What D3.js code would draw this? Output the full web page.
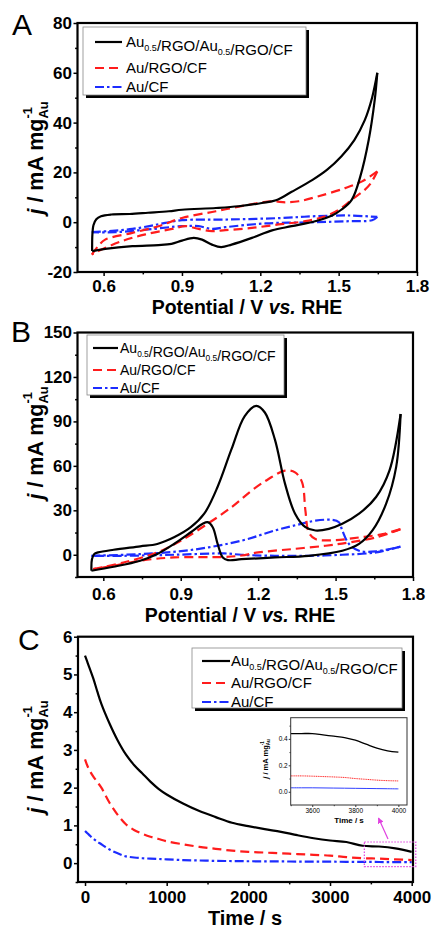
<!DOCTYPE html>
<html><head><meta charset="utf-8">
<script src="https://cdn.jsdelivr.net/npm/d3@7"></script>
<style>
body{margin:0;background:#fff}
svg{display:block}
text{font-family:"Liberation Sans",Arial,Helvetica,sans-serif}
</style>
</head><body>
<svg id="c" width="435" height="929"></svg>
<script>
// ---------------- DATA ----------------
const seriesNames = ["Au_{0.5}/RGO/Au_{0.5}/RGO/CF", "Au/RGO/CF", "Au/CF"];

// Panel A : CV, [potential V, j]
const aBlackFwd = [[0.556,-11.6],[0.557,-5],[0.561,-1.2],[0.572,1.2],[0.59,2.4],[0.63,3.1],[0.7,3.3],[0.77,3.8],[0.85,4.4],[0.9,5],[1.03,5.7],[1.117,6.4],[1.206,7.7],[1.26,8.8],[1.32,12.2],[1.4,17],[1.455,21],[1.51,26.4],[1.56,33],[1.6,41],[1.628,50],[1.648,60]];
const aBlackRev = [[1.648,60],[1.638,49],[1.615,33],[1.583,18.4],[1.55,9],[1.51,5],[1.475,2.7],[1.41,0.4],[1.32,-1.6],[1.245,-3.3],[1.168,-6.3],[1.09,-9],[1.05,-10],[1.015,-9],[0.977,-7],[0.945,-6.3],[0.9,-7.4],[0.86,-8.7],[0.81,-9.2],[0.71,-9.6],[0.606,-10.7],[0.556,-11.6]];
const aRedFwd = [[0.555,-13],[0.58,-9.5],[0.606,-7],[0.71,-4.3],[0.81,-1.6],[0.9,1.7],[1.03,4.4],[1.155,7],[1.245,8.4],[1.296,8],[1.347,8.4],[1.423,10.4],[1.525,13.7],[1.59,16.4],[1.648,20.4]];
const aRedRev = [[1.648,20.4],[1.622,15.5],[1.6,13],[1.55,9],[1.5,5],[1.449,2.4],[1.372,0.4],[1.27,-0.9],[1.168,-2.3],[1.066,-3.2],[1.015,-3.6],[0.964,-2.7],[0.913,-1.6],[0.862,-2.7],[0.76,-4.9],[0.67,-7.6],[0.58,-11.6],[0.555,-13]];
const aBlueFwd = [[0.555,-4],[0.71,-2.7],[0.836,-0.3],[0.9,0.8],[1.09,1.1],[1.283,1.7],[1.41,2.4],[1.538,2.7],[1.648,2.1]];
const aBlueRev = [[1.648,2.1],[1.628,0.8],[1.538,0.4],[1.41,0],[1.22,-0.5],[1.066,-2],[1.015,-2.7],[0.964,-1.6],[0.9,-1.6],[0.77,-2.9],[0.645,-4],[0.555,-4]];

// Panel B : CV, [potential V, j]
const bBlackFwd = [[0.554,-10.8],[0.556,-3],[0.565,0.5],[0.58,1.6],[0.64,3.4],[0.743,5.7],[0.809,7.3],[0.874,11.8],[0.939,18.6],[0.991,27.7],[1.043,45.9],[1.096,70.9],[1.148,93.6],[1.193,100.5],[1.226,96],[1.265,77.7],[1.304,48],[1.343,27.7],[1.383,18.6],[1.422,16.4],[1.474,17.5],[1.526,20.9],[1.591,27.7],[1.657,39],[1.709,57],[1.752,95]];
const bBlackRev = [[1.752,95],[1.735,59.5],[1.696,34.5],[1.643,16.4],[1.591,7.3],[1.526,2.7],[1.396,-0.7],[1.265,-1.8],[1.135,-3],[1.083,-3.6],[1.063,-1.8],[1.043,7.3],[1.024,18.6],[1.004,22],[0.985,20.9],[0.939,15.2],[0.874,7.3],[0.809,0.5],[0.743,-4],[0.64,-8.1],[0.554,-10.8]];
const bRedFwd = [[0.561,-9.7],[0.678,-5.2],[0.809,1.6],[0.9,9.5],[1.004,20.9],[1.096,32],[1.174,43.2],[1.239,51],[1.304,56.8],[1.343,55.6],[1.37,49],[1.383,30],[1.396,15.2],[1.422,10.6],[1.5,9.9],[1.591,11.7],[1.683,14],[1.752,17.3]];
const bRedRev = [[1.752,17.3],[1.657,11.7],[1.552,8.3],[1.461,6.1],[1.33,3.8],[1.2,1.6],[1.135,-0.5],[1.07,-1.5],[0.874,-1.8],[0.743,-4],[0.64,-7.4],[0.561,-9.7]];
const bBlueFwd = [[0.554,-0.7],[0.743,0.5],[0.939,3.2],[1.135,9.5],[1.265,16.4],[1.37,21],[1.422,23],[1.487,23.6],[1.513,22],[1.526,16.4],[1.552,7.3],[1.591,2.7],[1.657,2.3],[1.752,5.5]];
const bBlueRev = [[1.752,5.5],[1.657,1.6],[1.526,0],[1.396,-0.7],[1.265,-0.7],[1.135,0],[1.07,0.9],[0.874,0],[0.678,-0.7],[0.554,-0.7]];

// Panel C : chronoamperometry
const cTime  = [0,25,50,100,150,200,300,400,500,600,700,800,900,1000,1200,1400,1600,1800,2000,2200,2400,2600,2800,3000,3200,3400,3600,3800,4000];
const cBlack = [5.5,5.35,5.2,4.9,4.55,4.22,3.7,3.25,2.88,2.6,2.38,2.16,1.97,1.82,1.58,1.38,1.22,1.07,0.98,0.9,0.83,0.74,0.66,0.6,0.56,0.46,0.44,0.39,0.3];
const cRed   = [2.75,2.6,2.48,2.3,2.15,2.0,1.6,1.28,1.03,0.88,0.78,0.7,0.64,0.58,0.5,0.43,0.38,0.33,0.3,0.28,0.26,0.24,0.22,0.2,0.16,0.13,0.12,0.1,0.08];
const cBlue  = [0.85,0.8,0.75,0.65,0.57,0.5,0.36,0.26,0.18,0.15,0.13,0.12,0.11,0.1,0.08,0.07,0.06,0.055,0.05,0.048,0.045,0.042,0.04,0.038,0.035,0.033,0.03,0.027,0.025];

// Inset of panel C
const iTime  = [3500,3550,3600,3650,3700,3750,3800,3850,3900,3950,4000];
const iBlack = [0.44,0.44,0.44,0.43,0.42,0.41,0.39,0.36,0.33,0.31,0.30];
const iRed   = [0.12,0.12,0.118,0.115,0.112,0.108,0.1,0.094,0.088,0.084,0.082];
const iBlue  = [0.03,0.03,0.03,0.029,0.028,0.027,0.026,0.025,0.024,0.023,0.022];

// Tick values
const cvXTicks = [0.6,0.9,1.2,1.5,1.8];
const cvXMinor = [0.75,1.05,1.35,1.65];
const aYTicks = [-20,0,20,40,60,80];
const aYMinor = [-10,10,30,50,70];
const bYTicks = [0,30,60,90,120,150];
const bYMinor = [-15,15,45,75,105,135];
const cXTicks = [0,1000,2000,3000,4000];
const cXMinor = [500,1500,2500,3500];
const cYTicks = [0,1,2,3,4,5,6];
const cYMinor = [-0.5,0.5,1.5,2.5,3.5,4.5,5.5];
const iXTicks = [3600,3800,4000];
const iXMinor = [3500,3700,3900];
const iYTicks = [0.0,0.2,0.4];
const iYMinor = [0.1,0.3,0.5];

// ---------------- STYLE ----------------
const COL = ["#000000","#ff1c1c","#1c2cff"];
const DASH = [null,"9,5","9,3,2.5,3"];
const LW = 2.2;
const svg = d3.select("#c");

function richText(sel, str, subSize){
  const parts = str.split(/(_\{[^}]*\})/).filter(s=>s.length);
  parts.forEach(p=>{
    if(p.startsWith("_{")){
      sel.append("tspan").attr("font-size",subSize).attr("dy",4).text(p.slice(2,-1));
      sel.append("tspan").attr("dy",-4).text("");
    } else sel.append("tspan").text(p);
  });
}

function yTitle(x, y, size){
  const t = svg.append("text").attr("transform",`translate(${x},${y}) rotate(-90)`)
    .attr("text-anchor","middle").attr("font-weight","bold").attr("font-size",size);
  t.append("tspan").attr("font-style","italic").text("j");
  t.append("tspan").text(" / mA mg");
  const sub = t.append("tspan").attr("font-size",size*0.6).attr("dy",size*0.25).text("Au");
  const w = sub.node().getComputedTextLength();
  t.append("tspan").attr("font-size",size*0.6).attr("dx",-w).attr("dy",-size*0.78).text("-1");
  t.append("tspan").attr("font-size",size*0.6).attr("dx",w - size*0.6*0.9).attr("dy",size*0.53).text("");
  return t;
}

function panel(o){
  const x = d3.scaleLinear().domain(o.xd).range(o.xr);
  const y = d3.scaleLinear().domain(o.yd).range(o.yr);
  const g = svg.append("g");
  const xa = d3.axisBottom(x).tickValues(o.xt).tickSize(o.tick).tickSizeOuter(0).tickPadding(o.xpad).tickFormat(o.xf||(d=>d));
  const xm = d3.axisBottom(x).tickValues(o.xm).tickSize(o.tick*0.6).tickSizeOuter(0).tickFormat("");
  const ya = d3.axisLeft(y).tickValues(o.yt).tickSize(o.tick).tickSizeOuter(0).tickPadding(o.ypad).tickFormat(o.yf||(d=>d));
  const ym = d3.axisLeft(y).tickValues(o.ym).tickSize(o.tick*0.6).tickSizeOuter(0).tickFormat("");
  [[xa,"b"],[xm,"b"],[ya,"l"],[ym,"l"]].forEach(([ax,side])=>{
    const a = g.append("g").attr("transform", side==="b"?`translate(0,${o.yr[0]})`:`translate(${o.xr[0]},0)`).call(ax);
    a.select(".domain").remove();
    a.selectAll("line").attr("stroke","#000").attr("stroke-width",o.tw);
    a.selectAll("text").attr("font-size",o.fs).attr("font-weight",o.fw).attr("font-family","Liberation Sans, Arial, sans-serif").attr("fill","#000");
  });
  const id = "clip"+Math.random().toString(36).slice(2);
  svg.append("clipPath").attr("id",id).append("rect")
    .attr("x",o.xr[0]).attr("y",o.yr[1]).attr("width",o.xr[1]-o.xr[0]).attr("height",o.yr[0]-o.yr[1]);
  const plot = g.append("g").attr("clip-path",`url(#${id})`);
  const line = d3.line().x(d=>x(d[0])).y(d=>y(d[1])).curve(d3.curveCatmullRom.alpha(0.5));
  (o.series||[]).forEach(s=>{
    plot.append("path").attr("d",line(s.pts)).attr("fill","none")
      .attr("stroke",s.color).attr("stroke-width",s.w||LW)
      .attr("stroke-dasharray",s.dash).attr("stroke-linejoin","round");
  });
  g.append("rect").attr("x",o.xr[0]).attr("y",o.yr[1]).attr("width",o.xr[1]-o.xr[0]).attr("height",o.yr[0]-o.yr[1])
    .attr("fill","none").attr("stroke",o.frameCol||"#000").attr("stroke-width",o.fw2);
  return {x,y,g};
}

function legend(bx,by,bw,bh,rows,fs,sx0,sx1,tx){
  svg.append("rect").attr("x",bx+3).attr("y",by+3).attr("width",bw).attr("height",bh).attr("fill","#000");
  svg.append("rect").attr("x",bx).attr("y",by).attr("width",bw).attr("height",bh).attr("fill","#fff").attr("stroke","#888").attr("stroke-width",0.8);
  rows.forEach((ry,i)=>{
    svg.append("line").attr("x1",sx0).attr("x2",sx1).attr("y1",ry).attr("y2",ry)
      .attr("stroke",COL[i]).attr("stroke-width",LW).attr("stroke-dasharray",DASH[i]);
    const t = svg.append("text").attr("x",tx).attr("y",ry+fs*0.36).attr("font-size",fs).attr("fill","#000");
    richText(t, seriesNames[i], fs*0.6);
  });
}

function cvSeries(arrs){
  const out=[];
  arrs.forEach((pair,i)=>pair.forEach(p=>out.push({pts:p,color:COL[i],dash:DASH[i]})));
  return out;
}

function potTitle(x,y){
  svg.append("text").attr("x",x).attr("y",y).attr("text-anchor","middle").attr("font-size",19.5).attr("font-weight","bold")
    .call(t=>{t.append("tspan").text("Potential / V ");t.append("tspan").attr("font-style","italic").text("vs.");t.append("tspan").text(" RHE");});
}

// ---------------- PANEL A ----------------
panel({xd:[0.5,1.8],xr:[77.5,417],yd:[-20,80],yr:[272,23],xt:cvXTicks,xm:cvXMinor,yt:aYTicks,ym:aYMinor,
  tick:4,tw:1.5,xpad:4,ypad:1.5,fs:17,fw:"bold",fw2:2.2,xf:d3.format(".1f"),
  series:cvSeries([[aBlackFwd,aBlackRev],[aRedFwd,aRedRev],[aBlueFwd,aBlueRev]]).reverse()});
legend(83,27,223,68,[42,68,87],15,95,122,126);
potTitle(247,314);
yTitle(43,158,21.5);
svg.append("text").attr("x",12).attr("y",35).attr("font-size",30).text("A");

// ---------------- PANEL B ----------------
panel({xd:[0.5,1.8],xr:[77.5,413],yd:[-15,150],yr:[577,332.5],xt:cvXTicks,xm:cvXMinor,yt:bYTicks,ym:bYMinor,
  tick:4,tw:1.5,xpad:7,ypad:1.5,fs:17,fw:"bold",fw2:2.2,xf:d3.format(".1f"),
  series:cvSeries([[bBlackFwd,bBlackRev],[bRedFwd,bRedRev],[bBlueFwd,bBlueRev]]).reverse()});
legend(87,335,197,60,[348,370,388],14,93,118,120);
potTitle(240,622);
yTitle(43,443,21.5);
svg.append("text").attr("x",11).attr("y",342).attr("font-size",30).text("B");

// ---------------- PANEL C ----------------
const cSeries = [cBlack,cRed,cBlue].map((arr,i)=>({pts:cTime.map((t,k)=>[t,arr[k]]),color:COL[i],dash:DASH[i]})).reverse();
const C = panel({xd:[-86,4016],xr:[78,413],yd:[-0.5,6],yr:[882,636.7],xt:cXTicks,xm:cXMinor,yt:cYTicks,ym:cYMinor,
  tick:4,tw:1.5,xpad:5,ypad:1.5,fs:17,fw:"bold",fw2:2.2,series:cSeries});
legend(192,648,210,60,[661,683,702],15,202,230,231);
svg.append("text").attr("x",245).attr("y",925).attr("text-anchor","middle").attr("font-size",20).attr("font-weight","bold").text("Time / s");
yTitle(43,757,21.5);
svg.append("text").attr("x",18).attr("y",650).attr("font-size",30).text("C");

// zoom box + arrow
const zx0 = C.x(3420), zx1 = C.x(4050), zy0 = C.y(0.56), zy1 = C.y(-0.09);
svg.append("rect").attr("x",zx0).attr("y",zy0).attr("width",zx1-zx0).attr("height",zy1-zy0)
  .attr("fill","none").attr("stroke","#e040e0").attr("stroke-width",1.2).attr("stroke-dasharray","1.5,1.5");
svg.append("defs").append("marker").attr("id","ah").attr("viewBox","0 0 10 10").attr("refX",9).attr("refY",5)
  .attr("markerWidth",5).attr("markerHeight",5).attr("orient","auto")
  .append("path").attr("d","M0,0L10,5L0,10z").attr("fill","#e040e0");
svg.append("line").attr("x1",388).attr("y1",839).attr("x2",378.5).attr("y2",818)
  .attr("stroke","#e040e0").attr("stroke-width",1.2).attr("marker-end","url(#ah)");

// inset
svg.append("rect").attr("x",290.7).attr("y",717.7).attr("width",116.3).attr("height",87.3).attr("fill","#fff");
const inSeries = [iBlack,iRed,iBlue].map((arr,i)=>({pts:iTime.map((t,k)=>[t,arr[k]]),color:["#000","#ff3030","#3040ff"][i],w:[1.3,1,1][i],dash:i===1?"1.2,0.6":null}));
panel({xd:[3500,4040],xr:[290.7,407],yd:[-0.1,0.56],yr:[805,717.7],xt:iXTicks,xm:iXMinor,yt:iYTicks,ym:iYMinor,
  tick:2,tw:0.8,xpad:1.5,ypad:1,fs:6.5,fw:"normal",fw2:1,frameCol:"#333",yf:d3.format(".1f"),series:inSeries});
svg.append("text").attr("x",349).attr("y",823).attr("text-anchor","middle").attr("font-size",8).attr("font-weight","bold").text("Time / s");
yTitle(268,759,7.5);
</script>
</body></html>
